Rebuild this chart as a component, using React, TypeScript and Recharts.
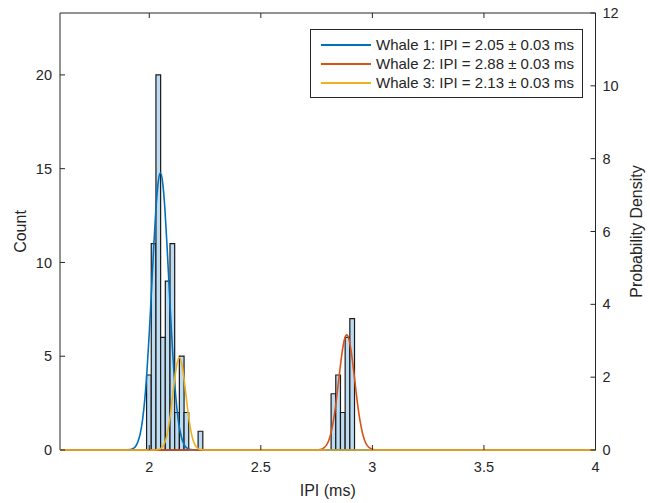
import React from 'react';
import { ComposedChart, XAxis, YAxis, Line, ReferenceArea, ReferenceLine, Legend, Label } from 'recharts';

// Histogram: left edge of each bin (ms) and its count
const binWidth = 0.021;
const binStarts = [1.988, 2.009, 2.03, 2.051, 2.072, 2.093, 2.114, 2.135, 2.156, 2.219, 2.815, 2.836, 2.857, 2.878, 2.899];
const binCounts = [4, 11, 20, 6, 9, 11, 2, 5, 2, 1, 3, 4, 2, 6, 7];

// Fitted probability density curves
const whale1X = [1.6, 1.9, 1.91, 1.92, 1.93, 1.94, 1.95, 1.96, 1.97, 1.98, 1.99, 2.0, 2.01, 2.02, 2.03, 2.04, 2.05, 2.06, 2.07, 2.08, 2.09, 2.1, 2.11, 2.12, 2.13, 2.14, 2.15, 2.16, 2.17, 2.18, 2.19, 2.2, 4.0];
const whale1Y = [0, 0, 0.01, 0.02, 0.05, 0.11, 0.24, 0.46, 0.83, 1.39, 2.19, 3.2, 4.37, 5.57, 6.63, 7.35, 7.61, 7.35, 6.63, 5.57, 4.37, 3.2, 2.19, 1.39, 0.83, 0.46, 0.24, 0.11, 0.05, 0.02, 0.01, 0, 0];

const whale2X = [1.6, 2.755, 2.765, 2.775, 2.785, 2.795, 2.805, 2.815, 2.825, 2.835, 2.845, 2.855, 2.865, 2.875, 2.885, 2.895, 2.905, 2.915, 2.925, 2.935, 2.945, 2.955, 2.965, 2.975, 2.985, 2.995, 3.005, 3.015, 4.0];
const whale2Y = [0, 0, 0.01, 0.03, 0.07, 0.14, 0.27, 0.48, 0.79, 1.2, 1.71, 2.23, 2.71, 3.04, 3.16, 3.04, 2.71, 2.23, 1.71, 1.2, 0.79, 0.48, 0.27, 0.14, 0.07, 0.03, 0.01, 0, 0];

const whale3X = [1.6, 2.025, 2.035, 2.045, 2.055, 2.065, 2.075, 2.085, 2.095, 2.105, 2.115, 2.125, 2.135, 2.145, 2.155, 2.165, 2.175, 2.185, 2.195, 2.205, 2.215, 2.225, 2.235, 2.245, 4.0];
const whale3Y = [0, 0, 0.01, 0.02, 0.06, 0.14, 0.3, 0.58, 0.98, 1.49, 2.0, 2.39, 2.54, 2.39, 2.0, 1.49, 0.98, 0.58, 0.3, 0.14, 0.06, 0.02, 0.01, 0, 0];

const seriesNames = [
  'Whale 1: IPI = 2.05 \u00B1 0.03 ms',
  'Whale 2: IPI = 2.88 \u00B1 0.03 ms',
  'Whale 3: IPI = 2.13 \u00B1 0.03 ms',
];
const seriesColors = ['#0072BD', '#D95319', '#EDB120'];

const xTicks = [2, 2.5, 3, 3.5, 4];
const countTicks = [0, 5, 10, 15, 20];
const densityTicks = [0, 2, 4, 6, 8, 10, 12];

const toPoints = (xs: number[], ys: number[]) => xs.map((x, i) => ({ x, y: ys[i] }));
const curves = [toPoints(whale1X, whale1Y), toPoints(whale2X, whale2Y), toPoints(whale3X, whale3Y)];

const AXIS = '#262626';
const FONT = '"Liberation Sans", Arial, Helvetica, sans-serif';
const TICK_FONT = 14.5;
const TICK_LEN = 5;

// Custom tick: inward tick mark (MATLAB style) + label
const InTick = (props: any) => {
  const { x, y, payload, side, margin, showLabel } = props;
  const v = payload.value;
  const txt = { fill: AXIS, fontSize: TICK_FONT, fontFamily: FONT };
  if (side === 'left') {
    const ax = x + margin;
    return (
      <g>
        <line x1={ax} x2={ax + TICK_LEN} y1={y} y2={y} stroke={AXIS} strokeWidth={1} />
        <text x={x} y={y} dy="0.355em" textAnchor="end" {...txt}>{v}</text>
      </g>
    );
  }
  if (side === 'right') {
    const ax = x - margin;
    return (
      <g>
        <line x1={ax} x2={ax - TICK_LEN} y1={y} y2={y} stroke={AXIS} strokeWidth={1} />
        <text x={x} y={y} dy="0.355em" textAnchor="start" {...txt}>{v}</text>
      </g>
    );
  }
  if (side === 'bottom') {
    const ay = y - margin;
    return (
      <g>
        <line x1={x} x2={x} y1={ay} y2={ay - TICK_LEN} stroke={AXIS} strokeWidth={1} />
        {showLabel && <text x={x} y={y} dy="0.71em" textAnchor="middle" {...txt}>{v}</text>}
      </g>
    );
  }
  const ay = y + margin;
  return (
    <g>
      <line x1={x} x2={x} y1={ay} y2={ay + TICK_LEN} stroke={AXIS} strokeWidth={1} />
    </g>
  );
};

const LegendBox = () => (
  <div
    style={{
      width: 273,
      height: 69,
      border: '1px solid #262626',
      background: '#fff',
      fontFamily: FONT,
      fontSize: 15,
      color: '#262626',
      boxSizing: 'border-box',
      paddingTop: 5,
    }}
  >
    {seriesNames.map((n, i) => (
      <div key={n} style={{ display: 'flex', alignItems: 'center', height: 19, whiteSpace: 'nowrap' }}>
        <div style={{ width: 50, height: 0, borderTop: `2px solid ${seriesColors[i]}`, marginLeft: 10, marginRight: 5 }} />
        <span>{n}</span>
      </div>
    ))}
  </div>
);

const AxisTitle = (props: any) => {
  const { viewBox, value, kind } = props;
  const { x, y, width, height } = viewBox;
  const common = { fill: AXIS, fontSize: 16, fontFamily: FONT, textAnchor: 'middle' as const };
  if (kind === 'x') {
    return (
      <text x={x + width / 2} y={y + 46} {...common}>
        {value}
      </text>
    );
  }
  const cx = kind === 'left' ? x + 22 : x + 42;
  const cy = y + height / 2;
  return (
    <text x={cx} y={cy} transform={`rotate(-90 ${cx} ${cy})`} dominantBaseline="middle" {...common}>
      {value}
    </text>
  );
};

export default function App() {
  return (
    <div style={{ width: 650, height: 503, background: '#fff' }}>
      <style>{`body{margin:0;background:#fff}`}</style>
      <ComposedChart width={650} height={503} margin={{ top: 12, right: 0, bottom: 0, left: 0 }}>
        <XAxis
          xAxisId="bottom"
          dataKey="x"
          type="number"
          domain={[1.6, 4]}
          ticks={xTicks}
          height={53}
          stroke={AXIS}
          axisLine={false}
          tickSize={0}
          tickMargin={12}
          tickLine={false}
          tick={<InTick side="bottom" margin={12} showLabel />}
        >
          <Label content={<AxisTitle kind="x" value="IPI (ms)" />} />
        </XAxis>
        <XAxis
          xAxisId="top"
          orientation="top"
          dataKey="x"
          type="number"
          domain={[1.6, 4]}
          ticks={xTicks}
          allowDataOverflow
          height={1}
          stroke={AXIS}
          tickSize={0}
          tickMargin={0}
          tickLine={false}
          tick={<InTick side="top" margin={0} />}
        />
        <YAxis
          yAxisId="left"
          type="number"
          domain={[0, 23.3]}
          ticks={countTicks}
          allowDataOverflow
          width={60}
          stroke={AXIS}
          tickSize={0}
          tickMargin={8}
          tickLine={false}
          tick={<InTick side="left" margin={8} />}
        >
          <Label content={<AxisTitle kind="left" value="Count" />} />
        </YAxis>
        <YAxis
          yAxisId="right"
          orientation="right"
          type="number"
          domain={[0, 12]}
          ticks={densityTicks}
          width={54.5}
          stroke={AXIS}
          tickSize={0}
          tickMargin={7}
          tickLine={false}
          tick={<InTick side="right" margin={7} />}
        >
          <Label content={<AxisTitle kind="right" value="Probability Density" />} />
        </YAxis>
        {binStarts.map((s, i) => (
          <ReferenceArea
            key={`bin-${i}`}
            xAxisId="bottom"
            yAxisId="left"
            x1={s}
            x2={s + binWidth}
            y1={0}
            y2={binCounts[i]}
            fill="#bddcf1"
            fillOpacity={1}
            stroke="#1a1a1a"
            strokeWidth={1.2}
          />
        ))}
        <ReferenceLine xAxisId="bottom" yAxisId="left" y={0} stroke={AXIS} strokeWidth={1} />
        {curves.map((pts, i) => (
          <Line
            key={`curve-${i}`}
            data={pts}
            xAxisId="bottom"
            yAxisId="right"
            dataKey="y"
            name={seriesNames[i]}
            type="monotone"
            stroke={seriesColors[i]}
            strokeWidth={1.6}
            dot={false}
            activeDot={false}
            isAnimationActive={false}
            {...({ zIndex: 600 } as any)}
          />
        ))}
        <Legend
          layout="vertical"
          align="center"
          verticalAlign="middle"
          wrapperStyle={{ left: 310, top: 29, width: 273, height: 69 }}
          content={() => <LegendBox />}
        />
      </ComposedChart>
    </div>
  );
}
